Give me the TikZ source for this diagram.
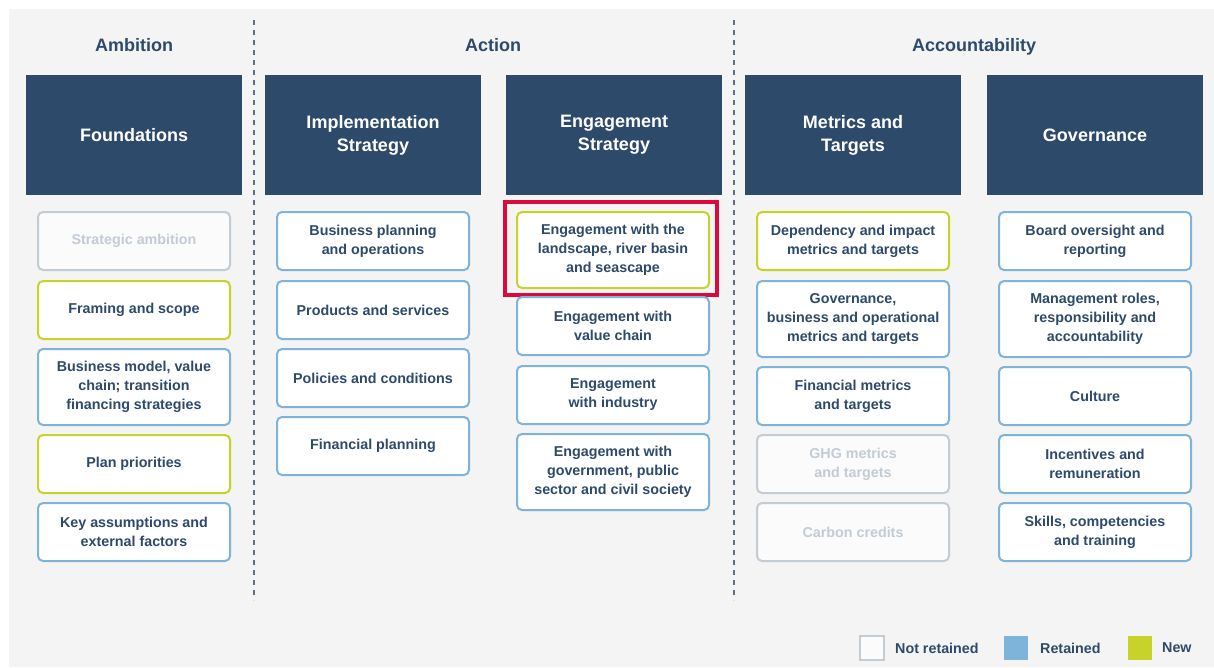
\documentclass[tikz,border=0pt]{standalone}
\usepackage{fontspec}
\setmainfont{Liberation Sans}
\definecolor{bg}{HTML}{F4F4F4}
\definecolor{navy}{HTML}{2E4A6B}
\definecolor{txt}{HTML}{2E4A6B}
\definecolor{blueb}{HTML}{7EB3DA}
\definecolor{greenb}{HTML}{C8D32A}
\definecolor{grayb}{HTML}{C3CBD3}
\definecolor{grayt}{HTML}{C3CBD5}
\definecolor{redb}{HTML}{DC0A3C}
\definecolor{dashc}{HTML}{5C7088}
\tikzset{
  colhead/.style={font=\bfseries\fontsize{18}{20}\selectfont, text=txt, anchor=base},
  darkbox/.style={fill=navy, minimum width=216pt, minimum height=120pt, text=white,
    font=\bfseries\fontsize{18}{23}\selectfont, align=center, inner sep=0pt},
  itembox/.style={rounded corners=5pt, line width=2pt, fill=white, minimum width=192pt,
    align=center, inner sep=0pt, font=\bfseries\fontsize{14.3}{19}\selectfont, text=txt},
  retained/.style={itembox, draw=blueb},
  newbox/.style={itembox, draw=greenb},
  notret/.style={itembox, draw=grayb, fill=white!60!bg, text=grayt},
  sep/.style={draw=dashc, line width=2pt, dash pattern=on 5pt off 5pt},
  legsq/.style={minimum size=24pt, inner sep=0pt},
  legtxt/.style={font=\bfseries\fontsize{14.3}{16}\selectfont, text=txt, anchor=west, inner sep=0pt}
}
\begin{document}
\begin{tikzpicture}[x=1pt,y=-1pt]
\useasboundingbox (0,0) rectangle (1214,667);
\fill[white] (0,0) rectangle (1214,667);
\fill[bg] (9,9) rectangle (1214,667);
% separators
\coordinate (s1a) at (254,20); \coordinate (s1b) at (254,600);
\coordinate (s2a) at (734,20); \coordinate (s2b) at (734,600);
\draw[sep] (s1a) -- (s1b);
\draw[sep] (s2a) -- (s2b);
% column headings
\node[colhead] (hamb) at (134,51.5) {Ambition};
\node[colhead] (hact) at (493,51.5) {Action};
\node[colhead] (hacc) at (974,51.5) {Accountability};
% dark boxes
\node[darkbox] (found) at (134,135) {Foundations};
\node[darkbox] (impl) at (373,135) {Implementation\\Strategy};
\node[darkbox] (eng) at (614,135) {Engagement\\Strategy};
\node[darkbox] (metr) at (853,135) {Metrics and\\Targets};
\node[darkbox] (gov) at (1095,135) {Governance};
% column 1
\node[notret, minimum height=58pt] (a1) at (134,241) {Strategic ambition};
\node[newbox, minimum height=58pt] (a2) at (134,310) {Framing and scope};
\node[retained, minimum height=76pt] (a3) at (134,387) {Business model, value\\chain; transition\\financing strategies};
\node[newbox, minimum height=58pt] (a4) at (134,464) {Plan priorities};
\node[retained, minimum height=58pt] (a5) at (134,532) {Key assumptions and\\external factors};
% column 2
\node[retained, minimum height=58pt] (b1) at (373,241) {Business planning\\and operations};
\node[retained, minimum height=58pt] (b2) at (373,310) {Products and services};
\node[retained, minimum height=58pt] (b3) at (373,378) {Policies and conditions};
\node[retained, minimum height=58pt] (b4) at (373,446) {Financial planning};
% column 3
\draw[redb, line width=4pt] (505,202) rectangle (717,295);
\node[newbox, minimum height=76pt] (c1) at (613,250) {Engagement with the\\landscape, river basin\\and seascape};
\node[retained, minimum height=58pt] (c2) at (613,326) {Engagement with\\value chain};
\node[retained, minimum height=58pt] (c3) at (613,395) {Engagement\\with industry};
\node[retained, minimum height=76pt] (c4) at (613,472) {Engagement with\\government, public\\sector and civil society};
% column 4
\node[newbox, minimum height=58pt] (d1) at (853,241) {Dependency and impact\\metrics and targets};
\node[retained, minimum height=76pt] (d2) at (853,319) {Governance,\\business and operational\\metrics and targets};
\node[retained, minimum height=58pt] (d3) at (853,396) {Financial metrics\\and targets};
\node[notret, minimum height=58pt] (d4) at (853,464) {GHG metrics\\and targets};
\node[notret, minimum height=58pt] (d5) at (853,532) {Carbon credits};
% column 5
\node[retained, minimum height=58pt] (e1) at (1095,241) {Board oversight and\\reporting};
\node[retained, minimum height=76pt] (e2) at (1095,319) {Management roles,\\responsibility and\\accountability};
\node[retained, minimum height=58pt] (e3) at (1095,396) {Culture};
\node[retained, minimum height=58pt] (e4) at (1095,464) {Incentives and\\remuneration};
\node[retained, minimum height=58pt] (e5) at (1095,532) {Skills, competencies\\and training};
% legend
\node[legsq, fill=white!60!bg, draw=grayb, line width=1.5pt] (l1) at (872,648) {};
\node[legtxt] (l1t) at (895,648) {Not retained};
\node[legsq, fill=blueb] (l2) at (1016,648) {};
\node[legtxt] (l2t) at (1040,648) {Retained};
\node[legsq, fill=greenb] (l3) at (1140,648) {};
\node[legtxt] (l3t) at (1162,648) {New};
\end{tikzpicture}
\end{document}
